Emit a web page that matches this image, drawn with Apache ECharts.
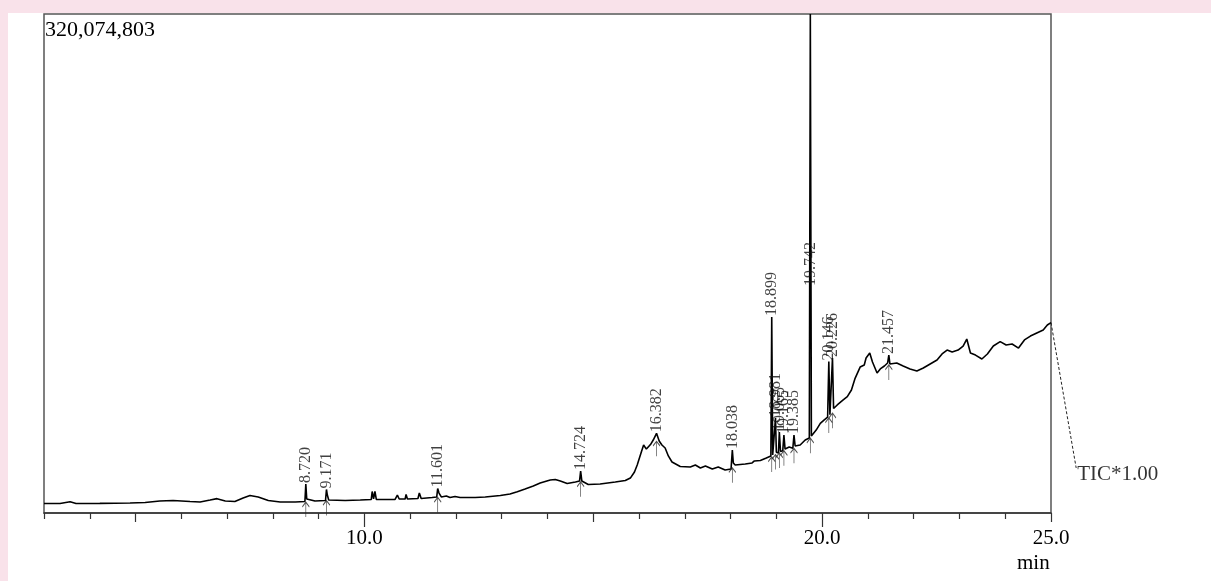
<!DOCTYPE html>
<html>
<head>
<meta charset="utf-8">
<script src="https://cdn.jsdelivr.net/npm/echarts@6/dist/echarts.min.js"></script>
<style>
  html, body { margin:0; padding:0; width:1211px; height:581px; overflow:hidden; background:#f9e2ea; }
  #paper { position:absolute; left:8px; top:13px; right:0; bottom:0; background:#ffffff; }
  #chart { position:absolute; left:0; top:0; width:1211px; height:581px; }
</style>
</head>
<body>
<div id="paper"></div>
<div id="chart"></div>
<script>
// ---- data (retention time in min, intensity in millions of counts) ----
const traceTime = [3.00,3.35,3.57,3.70,4.22,4.88,5.21,5.53,5.82,6.19,6.41,6.63,6.78,6.96,7.17,7.35,7.50,7.68,7.90,8.16,8.49,8.70,8.720,8.74,8.77,8.92,9.15,9.171,9.19,9.22,9.58,9.91,10.15,10.17,10.20,10.23,10.26,10.67,10.72,10.76,10.89,10.91,10.94,11.17,11.20,11.24,11.48,11.58,11.601,11.63,11.68,11.79,11.87,11.98,12.09,12.42,12.64,12.97,13.18,13.34,13.51,13.69,13.84,14.06,14.17,14.28,14.43,14.61,14.70,14.724,14.75,14.89,15.15,15.48,15.70,15.81,15.90,15.96,16.05,16.10,16.16,16.25,16.31,16.382,16.44,16.50,16.57,16.64,16.72,16.90,17.12,17.23,17.34,17.45,17.60,17.73,17.88,18.01,18.038,18.06,18.10,18.32,18.47,18.52,18.65,18.78,18.88,18.899,18.92,18.96,18.981,19.00,19.045,19.065,19.09,19.14,19.165,19.19,19.28,19.36,19.385,19.41,19.52,19.63,19.72,19.742,19.765,19.87,19.96,20.04,20.12,20.146,20.17,20.205,20.226,20.25,20.33,20.46,20.55,20.64,20.72,20.83,20.92,20.96,21.04,21.10,21.20,21.27,21.36,21.43,21.457,21.48,21.63,21.77,21.92,22.07,22.21,22.36,22.51,22.62,22.73,22.84,22.97,23.08,23.16,23.24,23.35,23.49,23.61,23.74,23.89,24.02,24.15,24.29,24.42,24.55,24.69,24.83,24.92,25.00];
const traceIntensity = [6.1,6.1,7.2,6.1,6.2,6.4,6.7,7.7,8.0,7.4,7.1,8.3,9.2,7.7,7.4,9.6,11.2,10.3,8.0,7.1,7.1,7.4,18.6,9.0,8.0,7.7,8.0,15.1,11.5,8.3,8.0,8.3,8.7,13.8,9.0,13.8,8.7,8.7,11.5,9.0,9.0,11.9,9.0,9.3,12.8,9.3,9.9,10.3,15.7,12.8,10.3,10.9,9.9,10.6,9.9,9.9,10.3,11.2,12.2,13.7,15.4,17.3,19.2,21.2,21.5,20.5,18.9,19.9,20.5,26.9,20.5,18.3,18.6,19.9,20.8,22.4,26.3,30.8,39.1,43.6,41.0,43.9,46.8,51.1,46.2,43.6,41.7,36.6,32.7,29.8,29.5,30.8,28.9,30.1,28.2,29.5,27.6,28.2,40.4,32.1,30.8,31.4,32.1,33.4,33.7,35.3,36.6,125.7,37.2,38.0,61.0,39.0,38.5,52.0,39.5,40.0,50.0,41.0,42.3,41.5,50.0,43.0,43.6,46.8,48.1,320.07,49.4,53.2,57.5,59.6,61.5,97.2,63.0,64.0,99.4,67.0,69.3,72.5,74.6,78.9,86.4,93.6,94.9,99.4,102.6,96.9,89.8,92.4,94.3,96.2,101.3,95.6,96.2,94.3,92.4,91.1,93.0,95.6,98.1,102.0,104.5,103.3,104.5,107.1,111.6,102.6,101.3,98.8,102.0,107.1,109.9,107.8,108.4,105.8,111.0,113.5,115.5,117.4,120.6,122.1];

const peakTimes   = [8.720, 9.171, 11.601, 14.724, 16.382, 18.038, 18.899, 18.981, 19.065, 19.165, 19.385, 19.742, 20.146, 20.226, 21.457];
const peakHeights = [18.6, 15.1, 15.7, 26.9, 51.1, 40.4, 125.7, 61.0, 52.0, 50.0, 50.0, 320.07, 97.2, 99.4, 101.3];
const peakBases   = [7.0, 8.0, 10.0, 20.0, 46.0, 29.0, 36.0, 37.5, 38.5, 40.0, 41.5, 48.0, 61.0, 64.0, 95.0];

const xMin = 3.0, xMax = 25.0;
const yMax = 320.074803;                 // millions
const maxLabel = '320,074,803';
const ticLabel = 'TIC*1.00';
const unitLabel = 'min';
const ticLeader = [[25.00, 122.1], [25.55, 28.9]];

const minorTickValues = [3,4,6,7,8,9,11,12,13,14,16,17,18,19,21,22,23,24];
const midTickValues   = [5,15,25];
const majorTickValues = [10,20];
const tickLabelValues = [10,20,25];

// ---- chart ----
const serif = "'Liberation Serif','Times New Roman',serif";
const chart = echarts.init(document.getElementById('chart'), null, {renderer:'canvas'});

function xAxisBase(extra) {
  return Object.assign({
    type:'value', min:xMin, max:xMax, position:'bottom', gridIndex:0,
    splitLine:{show:false}, axisPointer:{show:false}
  }, extra);
}

const option = {
  animation:false,
  backgroundColor:'transparent',
  title:[
    {text:maxLabel, left:45, top:19, padding:0,
     textStyle:{fontFamily:serif, fontSize:22, fontWeight:'normal', color:'#000'}},
    {text:unitLabel, left:1017, top:553, padding:0,
     textStyle:{fontFamily:serif, fontSize:21, fontWeight:'normal', color:'#000'}}
  ],
  grid:{left:44, right:160, top:14, bottom:68, show:true, borderColor:'#555', borderWidth:1.5, backgroundColor:'transparent'},
  xAxis:[
    xAxisBase({
      axisLine:{show:true, lineStyle:{color:'#333', width:1.5}},
      axisTick:{show:true, customValues:minorTickValues, length:6, lineStyle:{color:'#333', width:1.2}},
      axisLabel:{show:false}
    }),
    xAxisBase({
      axisLine:{show:false},
      axisTick:{show:true, customValues:midTickValues, length:9, lineStyle:{color:'#333', width:1.2}},
      axisLabel:{show:false}
    }),
    xAxisBase({
      axisLine:{show:false},
      axisTick:{show:true, customValues:majorTickValues, length:14, lineStyle:{color:'#333', width:1.2}},
      axisLabel:{show:true, customValues:tickLabelValues, margin:15,
        formatter:v => v.toFixed(1),
        fontFamily:serif, fontSize:21, color:'#000'}
    })
  ],
  yAxis:{type:'value', min:0, max:yMax, show:false, splitLine:{show:false}},
  series:[
    {
      name:'TIC', type:'line', xAxisIndex:0, yAxisIndex:0,
      data:traceTime.map((t,i)=>[t, traceIntensity[i]]),
      showSymbol:false, symbol:'none',
      lineStyle:{color:'#000', width:1.6},
      z:3
    },
    {
      name:'peaks', type:'scatter', xAxisIndex:0,
      symbolSize:0,
      data:peakTimes.map((t,i)=>{
        const item = {value:[t, peakHeights[i]]};
        if (peakHeights[i] >= yMax - 0.01) {
          item.label = {offset:[-273, 0]};
        }
        return item;
      }),
      label:{show:true, rotate:90, position:'top', distance:1, align:'left', verticalAlign:'middle',
        formatter:p => p.value[0].toFixed(3),
        fontFamily:serif, fontSize:16, color:'#111'},
      z:5
    },
    {
      name:'arrows', type:'scatter', xAxisIndex:0,
      data:peakTimes.map((t,i)=>[t, peakBases[i]]),
      symbol:'path://M5,0 L5,16 M1,5 L5,0 L9,5',
      symbolSize:[7,15], symbolOffset:[0,'50%'],
      itemStyle:{color:'transparent', borderColor:'#222', borderWidth:1},
      clip:false,
      z:4
    },
    {
      name:'leader', type:'custom', xAxisIndex:0, yAxisIndex:0,
      data:[ticLeader[0].concat(ticLeader[1])],
      clip:false,
      renderItem:function(params, api){
        const p0 = api.coord([api.value(0), api.value(1)]);
        const p1 = api.coord([api.value(2), api.value(3)]);
        return {type:'line', shape:{x1:p0[0], y1:p0[1], x2:p1[0], y2:p1[1]},
          style:{stroke:'#222', lineWidth:1, lineDash:[3,2], fill:null}};
      },
      z:2
    },
    {
      name:'ticLabel', type:'scatter', xAxisIndex:0, clip:false,
      symbolSize:0,
      data:[ticLeader[1]],
      label:{show:true, position:'right', distance:1, offset:[0,7], formatter:ticLabel,
        fontFamily:serif, fontSize:21, color:'#000'},
      z:2
    }
  ]
};
chart.setOption(option);
</script>
</body>
</html>
